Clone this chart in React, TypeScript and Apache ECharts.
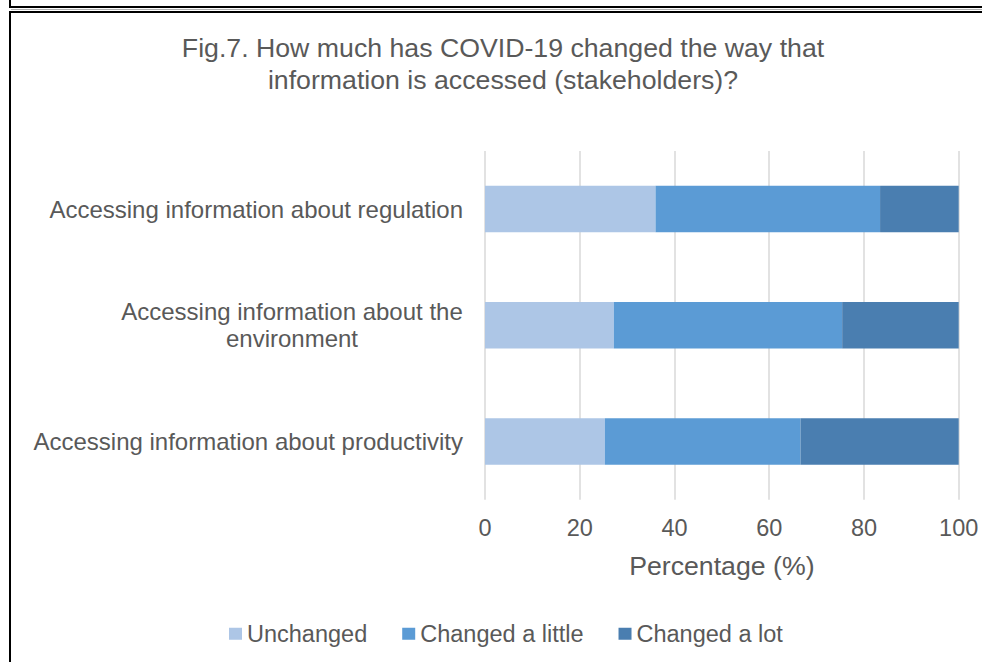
import React, { useEffect, useRef } from "react";
import * as echarts from "echarts";

const titleText = "Fig.7. How much has COVID-19 changed the way that\ninformation is accessed (stakeholders)?";
const categories = [
  "Accessing information about regulation",
  "Accessing information about the environment",
  "Accessing information about productivity",
];
const seriesNames = ["Unchanged", "Changed a little", "Changed a lot"];
const unchanged = [36.0, 27.2, 25.3];
const changedLittle = [47.4, 48.2, 41.3];
const changedLot = [16.6, 24.6, 33.4];
const colors = ["#ADC6E6", "#5B9BD5", "#4A7EB0"];
const xTicks = { min: 0, max: 100, interval: 20 };
const axisName = "Percentage (%)";

const FONT = "'Liberation Sans', Arial, Helvetica, sans-serif";
const TXT = "#595959";

export default function App() {
  const ref = useRef<HTMLDivElement>(null);
  useEffect(() => {
    if (!ref.current) return;
    const chart = echarts.init(ref.current, null, { renderer: "svg" });
    const values = [unchanged, changedLittle, changedLot];
    chart.setOption({
      animation: false,
      backgroundColor: "#ffffff",
      textStyle: { fontFamily: FONT },
      graphic: [
        { type: "line", shape: { x1: 10, y1: 0, x2: 10, y2: 8 }, style: { stroke: "#000", lineWidth: 2 } },
        { type: "line", shape: { x1: 9, y1: 7, x2: 982, y2: 7 }, style: { stroke: "#000", lineWidth: 2 } },
        { type: "line", shape: { x1: 11, y1: 9.5, x2: 982, y2: 9.5 }, style: { stroke: "#b0b0b0", lineWidth: 1 } },
        { type: "line", shape: { x1: 9, y1: 12, x2: 982, y2: 12 }, style: { stroke: "#000", lineWidth: 2 } },
        { type: "line", shape: { x1: 10, y1: 11, x2: 10, y2: 662 }, style: { stroke: "#000", lineWidth: 2 } },
        {
          type: "text",
          x: 503,
          y: 64,
          style: {
            text: titleText,
            fill: TXT,
            fontSize: 26.7,
            fontFamily: FONT,
            lineHeight: 32,
            align: "center",
            verticalAlign: "middle",
          },
        },
      ],
      legend: {
        data: seriesNames,
        left: 229,
        top: 621.75,
        padding: 0,
        itemWidth: 13,
        itemHeight: 12,
        itemGap: 35,
        icon: "rect",
        textStyle: { color: TXT, fontSize: 23.5, fontFamily: FONT },
      },
      grid: { left: 485, right: 23.3, top: 151, bottom: 162.3, containLabel: false },
      xAxis: {
        type: "value",
        min: xTicks.min,
        max: xTicks.max,
        interval: xTicks.interval,
        name: axisName,
        nameLocation: "middle",
        nameGap: 53,
        nameTextStyle: { color: TXT, fontSize: 26.7, fontFamily: FONT },
        axisLine: { show: false },
        axisTick: { show: false },
        axisLabel: { color: TXT, fontSize: 23.5, fontFamily: FONT, margin: 16 },
        splitLine: { show: true, lineStyle: { color: "#D9D9D9", width: 1.5 } },
      },
      yAxis: {
        type: "category",
        inverse: true,
        data: categories,
        axisLine: { show: false },
        axisTick: { show: false },
        axisLabel: {
          margin: 22,
          color: TXT,
          fontSize: 24,
          fontFamily: FONT,
          formatter: (v: string) => {
            if (v === categories[1]) {
              return "{w|Accessing information about the}\n{w|environment}";
            }
            return "{s|" + v + "}";
          },
          rich: {
            s: { color: TXT, fontSize: 24, fontFamily: FONT },
            w: { color: TXT, fontSize: 24, fontFamily: FONT, width: 342, align: "center", lineHeight: 27 },
          },
        },
      },
      series: seriesNames.map((name, i) => ({
        name,
        type: "bar",
        stack: "total",
        barCategoryGap: "60%",
        itemStyle: { color: colors[i] },
        data: values[i],
      })),
    });
    return () => chart.dispose();
  }, []);
  return (
    <div style={{ position: "fixed", left: 0, top: 0, width: 982, height: 662, overflow: "hidden", background: "#fff" }}>
      <div ref={ref} style={{ width: 982, height: 662 }} />
    </div>
  );
}
